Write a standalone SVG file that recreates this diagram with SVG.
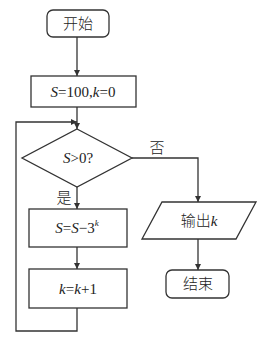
<svg xmlns="http://www.w3.org/2000/svg" width="270" height="343" viewBox="0 0 270 343">
<style>
.s{fill:none;stroke:#333;stroke-width:1.3}
.b{fill:#fff;stroke:#333;stroke-width:1.3}
.t{font-family:"Liberation Serif","Noto Sans CJK SC",serif;font-size:15px;fill:#222;text-anchor:middle}
.c{font-family:"Noto Sans CJK SC","Liberation Serif",sans-serif;font-size:15px;font-weight:300;fill:#222;text-anchor:middle}
.i{font-style:italic}
</style>
<defs>
<marker id="a" markerWidth="8" markerHeight="8" refX="6" refY="3" orient="auto" markerUnits="userSpaceOnUse">
<path d="M0,0 L6,3 L0,6 Z" fill="#333"/>
</marker>
</defs>
<g id="connectors">
<line class="s" x1="77" y1="37" x2="77" y2="76" marker-end="url(#a)"/>
<line class="s" x1="77" y1="107" x2="77" y2="129" marker-end="url(#a)"/>
<polyline class="s" points="132,158 198,158 198,202" marker-end="url(#a)"/>
<line class="s" x1="77" y1="187" x2="77" y2="209" marker-end="url(#a)"/>
<line class="s" x1="77" y1="247" x2="77" y2="269" marker-end="url(#a)"/>
<polyline class="s" points="77,308 77,331 16,331 16,122 77,122" marker-end="url(#a)"/>
<line class="s" x1="198" y1="239" x2="198" y2="270" marker-end="url(#a)"/>
<text class="c" x="157" y="153">否</text>
<text class="c" x="64" y="203">是</text>
</g>
<g id="start">
<rect class="b" x="47" y="10" width="62" height="27" rx="6"/>
<text class="c" x="78" y="29">开始</text>
</g>
<g id="init">
<rect class="b" x="31" y="76" width="105" height="31"/>
<text class="t" x="83" y="97"><tspan class="i">S</tspan>=100,<tspan class="i">k</tspan>=0</text>
</g>
<g id="cond">
<polygon class="b" points="77,129 132,158 77,187 22,158"/>
<text class="t" x="78" y="163"><tspan class="i">S</tspan>&gt;0?</text>
</g>
<g id="update">
<rect class="b" x="29" y="209" width="98" height="38"/>
<text class="t" x="77" y="233"><tspan class="i">S</tspan>=<tspan class="i">S</tspan>−3<tspan class="i" font-size="9" dy="-7">k</tspan></text>
</g>
<g id="incr">
<rect class="b" x="29" y="269" width="98" height="39"/>
<text class="t" x="78" y="294"><tspan class="i">k</tspan>=<tspan class="i">k</tspan>+1</text>
</g>
<g id="output">
<polygon class="b" points="162,202 256,202 236,239 142,239"/>
<text class="c" x="199" y="226">输出<tspan class="i" font-family="Liberation Serif" font-size="15" font-weight="400">k</tspan></text>
</g>
<g id="end">
<rect class="b" x="166" y="270" width="63" height="28" rx="6"/>
<text class="c" x="198" y="289">结束</text>
</g>
</svg>
